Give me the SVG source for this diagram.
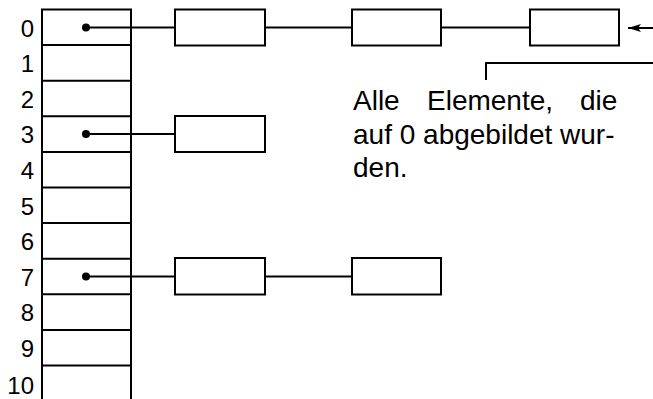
<svg xmlns="http://www.w3.org/2000/svg" width="653" height="399" viewBox="0 0 653 399">
<style>
.ln{stroke:#000;stroke-width:2;fill:none}
.bx{stroke:#000;stroke-width:2;fill:#fff}
.dg{font-family:"Liberation Sans",Arial,sans-serif;font-size:24px;fill:#000;text-anchor:end}
.tx{font-family:"Liberation Sans",Arial,sans-serif;font-size:28px;fill:#000}
</style>
<defs>
<marker id="ah" markerWidth="13" markerHeight="9" refX="13" refY="4.5" orient="auto" markerUnits="userSpaceOnUse">
<path d="M0,0.5 L13,4.5 L0,8.5 L3,4.5 z" fill="#000"/>
</marker>
</defs>
<rect width="653" height="399" fill="#fff"/>
<g id="array">
<path class="ln" d="M42,399 V9.5 H131 V399"/>
<path class="ln" d="M42,45.1 H131 M42,80.7 H131 M42,116.3 H131 M42,151.9 H131 M42,187.5 H131 M42,223.1 H131 M42,258.7 H131 M42,294.3 H131 M42,329.9 H131 M42,365.5 H131"/>
<text class="dg" x="34" y="36.5">0</text>
<text class="dg" x="34" y="72.1">1</text>
<text class="dg" x="34" y="107.7">2</text>
<text class="dg" x="34" y="143.3">3</text>
<text class="dg" x="34" y="178.9">4</text>
<text class="dg" x="34" y="214.5">5</text>
<text class="dg" x="34" y="250.1">6</text>
<text class="dg" x="34" y="285.7">7</text>
<text class="dg" x="34" y="321.3">8</text>
<text class="dg" x="34" y="356.9">9</text>
<text class="dg" x="34" y="394">10</text>
</g>
<g id="connectors">
<path class="ln" d="M86,27.5 H175 M265,27.5 H352 M441,27.5 H530"/>
<path class="ln" d="M86,134 H175"/>
<path class="ln" d="M86,276.5 H175 M265,276.5 H352"/>
<path class="ln" d="M653,28 H628" marker-end="url(#ah)"/>
<path class="ln" d="M653,63 H486 V80"/>
<circle cx="86" cy="27.5" r="4" fill="#000"/>
<circle cx="86" cy="134" r="4" fill="#000"/>
<circle cx="86" cy="276.5" r="4" fill="#000"/>
</g>
<g id="n0a"><rect class="bx" x="175" y="9.5" width="90" height="36"/></g>
<g id="n0b"><rect class="bx" x="352" y="9.5" width="89" height="36"/></g>
<g id="n0c"><rect class="bx" x="530" y="9.5" width="89" height="36"/></g>
<g id="n3a"><rect class="bx" x="175" y="116" width="90" height="36"/></g>
<g id="n7a"><rect class="bx" x="175" y="258" width="90" height="36.5"/></g>
<g id="n7b"><rect class="bx" x="352" y="258" width="89" height="36.5"/></g>
<g id="label">
<text class="tx" y="110"><tspan x="353">Alle</tspan><tspan x="427">Elemente,</tspan><tspan x="580">die</tspan></text>
<text class="tx" x="353" y="144">auf 0 abgebildet wur-</text>
<text class="tx" x="353" y="177">den.</text>
</g>
</svg>
